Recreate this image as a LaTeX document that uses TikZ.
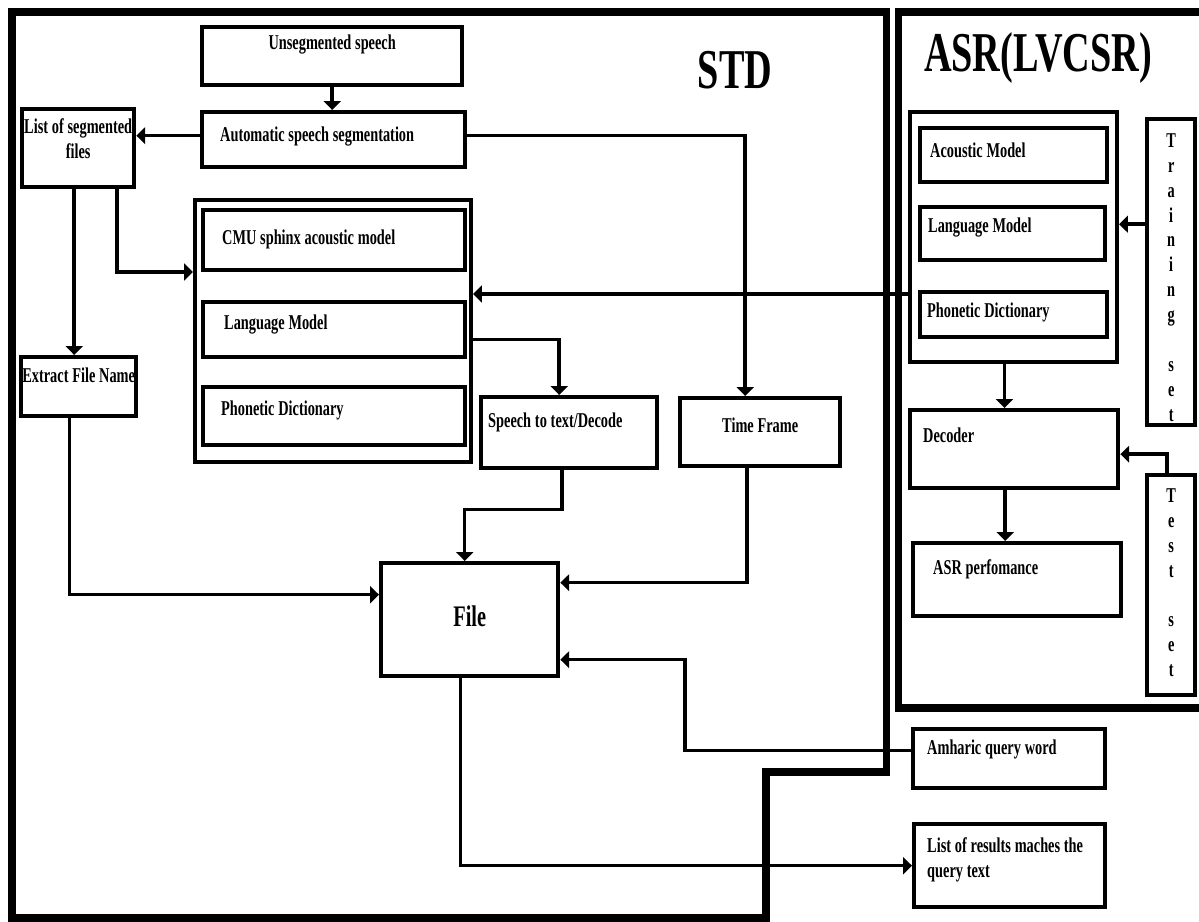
\documentclass[tikz,border=0pt]{standalone}
\usepackage{fontspec}
\setmainfont{Liberation Serif}[FakeStretch=0.68]
\usetikzlibrary{arrows.meta,positioning,calc}
\newlength\pxl
\setlength\pxl{0.02cm}
\protected\def\boxfont{\bfseries\fontsize{12}{14.2}\selectfont
  \spaceskip=0.18em plus 0.05em\relax}
\tikzset{
  block/.style={draw,line width=2.5pt,anchor=north west,inner ysep=0pt,
                font=\boxfont,align=flush left},
  blockc/.style={block,align=flush center},
  grp/.style={block,line width=2.3pt},
  sz/.style n args={4}{text width=#1\pxl,inner xsep=#2\pxl,
                       text height=#3\pxl,text depth=#4\pxl},
  flow/.style={-{Triangle[length=5pt,width=9.5pt]},line width=2pt},
  wall/.style={line width=4pt},
  ttl/.style={font=\bfseries\fontsize{32}{36}\selectfont},
}
\begin{document}
\begin{tikzpicture}[x=\pxl,y=-\pxl]
\useasboundingbox (0,0) rectangle (1199,922);

\draw[wall] (12,12) -- (886,12) -- (886,772) -- (766,772) -- (766,918) -- (12,918) -- cycle;
\draw[wall] (1205,12) -- (898,12) -- (898,708) -- (1205,708);
\node[ttl] (tstd) at (735,70) {STD};
\node[ttl] (tasr) at (1038,58) {ASR(LVCSR)};

\node[blockc,sz={260}{0}{22}{36}] (unseg) at (200,25) {Unsegmented speech};
\node[block,sz={227}{18}{29}{26}] (seg) at (200,110) {Automatic speech segmentation};
\node[blockc,sz={112}{0}{24}{54}] (lsf) at (20,107) {List of segmented\\files};
\node[grp,sz={276}{0}{0}{262}] (sphx) at (193,198) {};
\node[block,sz={224}{19}{34}{26}] (cmu) at (201,208) {CMU sphinx acoustic model};
\node[block,sz={220}{21}{27}{28}] (lm) at (201,300) {Language Model};
\node[block,sz={226}{18}{28}{30}] (pd) at (201,385) {Phonetic Dictionary};
\node[blockc,sz={115}{0}{25}{34}] (efn) at (19,355) {Extract File Name};
\node[block,sz={162}{7}{30}{41}] (dcd) at (479,395) {Speech to text/Decode};
\node[blockc,sz={160}{0}{34}{34}] (tf) at (678,396) {Time Frame};
\node[blockc,sz={177}{0}{63}{50},font=\bfseries\fontsize{17}{20}\selectfont] (file) at (379,561) {File};

\node[grp,sz={207}{0}{0}{250}] (asr) at (908,110) {};
\node[block,sz={167}{10}{29}{25}] (am) at (918,126) {Acoustic Model};
\node[block,sz={169}{8}{25}{28}] (alm) at (918,205) {Language Model};
\node[block,sz={173}{7}{25}{20}] (apd) at (918,290) {Phonetic Dictionary};
\node[blockc,sz={48}{0}{28}{278}] (trn) at (1145,117) {T\\r\\a\\i\\n\\i\\n\\g\\[25\pxl]s\\e\\t};
\node[block,sz={182}{13}{32}{46}] (dec) at (908,408) {Decoder};
\node[blockc,sz={48}{0}{27}{193}] (tst) at (1145,473) {T\\e\\s\\t\\[25\pxl]s\\e\\t};
\node[block,sz={168}{20}{31}{42}] (perf) at (911,541) {ASR perfomance};
\node[block,sz={164}{14}{25}{34}] (amh) at (911,727) {Amharic query word};
\node[block,sz={165}{13}{28}{55}] (res) at (912,822) {List of results maches the\\query text};

\draw[flow] (unseg.south) -- (unseg.south |- seg.north);
\draw[flow] ([yshift=4\pxl]seg.west) -- ([yshift=4\pxl]seg.west -| lsf.east);
\draw[flow] ([yshift=4\pxl]seg.east) -| ([xshift=-15\pxl]tf.north);
\draw[flow] ([xshift=-4\pxl]lsf.south) -- ([xshift=-4\pxl]lsf.south |- efn.north);
\draw[flow] ([xshift=39\pxl]lsf.south) |- ([yshift=59\pxl]sphx.west);
% the models of the ASR side feed the STD decoder
\draw[flow] ([yshift=-57\pxl]asr.west) -- ([yshift=-57\pxl]asr.west -| sphx.east);
\draw[flow] ([yshift=-10\pxl]lm.east -| sphx.east) -| ([xshift=-10\pxl]dcd.north);
\draw[flow] ([xshift=-7\pxl]dcd.south) -- ++(0,39) -| ([xshift=-5\pxl]file.north);
\draw[flow] ([xshift=-13\pxl]tf.south) |- ([yshift=37\pxl]file.east);
\draw[flow] ([xshift=-9\pxl]efn.south) |- ([yshift=25\pxl]file.west);
\draw[flow] ([yshift=8\pxl]amh.west) -- ++(-226,0) |- ([yshift=-40\pxl]file.east);
\draw[flow] ([xshift=-9\pxl]file.south) |- (res.west);
\draw[flow] ([xshift=-9\pxl]asr.south) -- ([xshift=-9\pxl]asr.south |- dec.north);
\draw[flow] ([xshift=-9\pxl]dec.south) -- ([xshift=-9\pxl]dec.south |- perf.north);
\draw[flow] ([yshift=48\pxl]trn.west) -- ([yshift=48\pxl]trn.west -| asr.east);
\draw[flow] ([xshift=-4\pxl]tst.north) |- ([yshift=-5\pxl]dec.east);

\end{tikzpicture}
\end{document}
